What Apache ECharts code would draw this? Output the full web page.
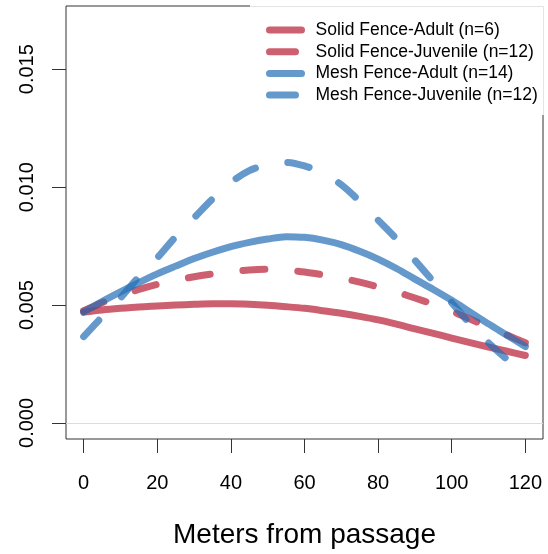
<!DOCTYPE html>
<html>
<head>
<meta charset="utf-8">
<script src="https://cdn.jsdelivr.net/npm/echarts@6/dist/echarts.min.js"></script>
<style>
html,body{margin:0;padding:0;background:#fff;}
#chart{width:548px;height:554px;}
</style>
</head>
<body>
<div id="chart"></div>
<script>
// ---- data ----
const meters = [0, 5, 10, 15, 20, 25, 30, 35, 40, 45, 50, 55, 60, 65, 70, 75, 80, 85, 90, 95, 100, 105, 110, 115, 120];
const solidAdult = [0.00470, 0.00479, 0.00486, 0.00492, 0.00496, 0.00500, 0.00503, 0.00505, 0.00505, 0.00503, 0.00499, 0.00493, 0.00486, 0.00476, 0.00465, 0.00452, 0.00437, 0.00419, 0.00399, 0.00380, 0.00360, 0.00341, 0.00322, 0.00304, 0.00286];
const solidJuvenile = [0.00476, 0.00510, 0.00540, 0.00566, 0.00588, 0.00605, 0.00620, 0.00632, 0.00642, 0.00649, 0.00652, 0.00648, 0.00640, 0.00628, 0.00614, 0.00597, 0.00577, 0.00555, 0.00530, 0.00503, 0.00474, 0.00441, 0.00406, 0.00373, 0.00340];
const meshAdult = [0.00470, 0.00515, 0.00556, 0.00595, 0.00632, 0.00665, 0.00697, 0.00724, 0.00748, 0.00766, 0.00780, 0.00790, 0.00787, 0.00775, 0.00756, 0.00728, 0.00695, 0.00655, 0.00610, 0.00566, 0.00520, 0.00470, 0.00420, 0.00372, 0.00324];
const meshJuvenile = [0.00366, 0.0045, 0.0053, 0.0062, 0.0070, 0.0079, 0.0087, 0.0095, 0.0102, 0.0107, 0.01095, 0.01105, 0.0109, 0.0106, 0.0101, 0.0094, 0.0086, 0.0078, 0.0069, 0.0060, 0.0051, 0.0042, 0.0034, 0.0027, 0.0021];
const seriesNames = ['Solid Fence-Adult (n=6)', 'Solid Fence-Juvenile (n=12)', 'Mesh Fence-Adult (n=14)', 'Mesh Fence-Juvenile (n=12)'];
const xTicks = [0, 20, 40, 60, 80, 100, 120];
const yTicks = [0, 0.005, 0.010, 0.015];
const xTitle = 'Meters from passage';

const RED = 'rgba(184,28,51,0.7)';
const BLUE = 'rgba(36,109,182,0.7)';
const FONT = '"Liberation Sans", Arial, Helvetica, sans-serif';
const DASH = [22, 33];

function pairs(xs, ys) { return xs.map((x, i) => [x, ys[i]]); }

function mkSeries(name, ys, color, dashed) {
  return {
    name: name,
    type: 'line',
    data: pairs(meters, ys),
    smooth: 0.3,
    symbol: 'none',
    silent: true,
    itemStyle: { color: color },
    lineStyle: { color: color, width: 7, type: dashed ? DASH : 'solid', cap: 'round', join: 'round' },
    z: 2
  };
}

const series = [
  mkSeries(seriesNames[0], solidAdult, RED, false),
  mkSeries(seriesNames[1], solidJuvenile, RED, true),
  mkSeries(seriesNames[2], meshAdult, BLUE, false),
  mkSeries(seriesNames[3], meshJuvenile, BLUE, true)
];
series[0].markLine = {
  silent: true, symbol: 'none', label: { show: false },
  lineStyle: { color: '#dcdcdc', width: 1, type: 'solid' },
  data: [{ yAxis: 0 }], z: 1
};

const legendDash = [false, true, false, true];
const chart = echarts.init(document.getElementById('chart'), null, { renderer: 'canvas' });
chart.setOption({
  animation: false,
  backgroundColor: '#fff',
  textStyle: { fontFamily: FONT },
  grid: { left: 66, right: 5, top: 6, bottom: 113, show: true, borderColor: '#333', borderWidth: 1, backgroundColor: 'transparent' },
  xAxis: {
    type: 'value', min: -4.8, max: 124.8,
    axisLine: { show: false, onZero: false },
    splitLine: { show: false },
    axisTick: { show: true, length: 14, lineStyle: { color: '#333', width: 1 }, customValues: xTicks },
    axisLabel: { show: true, customValues: xTicks, color: '#000', fontSize: 20, fontFamily: FONT, margin: 34 },
    name: xTitle, nameLocation: 'middle', nameGap: 82,
    nameTextStyle: { fontSize: 28, color: '#000', fontFamily: FONT }
  },
  yAxis: {
    type: 'value', min: -0.00068, max: 0.01768,
    axisLine: { show: false, onZero: false },
    splitLine: { show: false },
    axisTick: { show: true, length: 14, lineStyle: { color: '#333', width: 1 }, customValues: yTicks },
    axisLabel: { show: true, customValues: yTicks, rotate: 90, color: '#000', fontSize: 20, fontFamily: FONT, margin: 29,
      formatter: v => Number(v).toFixed(3) }
  },
  legend: {
    orient: 'vertical', left: 266, top: 20, padding: 0,
    itemWidth: 32, itemHeight: 7, itemGap: 1.7,
    data: seriesNames.map((n, i) => ({ name: n, lineStyle: { type: legendDash[i] ? [26, 30] : 'solid' } })),
    itemStyle: { opacity: 0 },
    lineStyle: { width: 7, cap: 'round' },
    textStyle: { fontSize: 17.5, color: '#000', fontFamily: FONT, lineHeight: 20, padding: [0, 0, 0, 9] },
    selectedMode: false,
    z: 10
  },
  graphic: [
    { type: 'rect', z: 5, silent: true, shape: { x: 250, y: 4, width: 294, height: 111 }, style: { fill: '#fff' } },
    { type: 'line', z: 6, silent: true, shape: { x1: 250, y1: 6.5, x2: 543.5, y2: 6.5 }, style: { stroke: '#e4e4e4', lineWidth: 1 } },
    { type: 'line', z: 6, silent: true, shape: { x1: 543.5, y1: 6.5, x2: 543.5, y2: 115 }, style: { stroke: '#e4e4e4', lineWidth: 1 } }
  ],
  series: series
});
</script>
</body>
</html>
